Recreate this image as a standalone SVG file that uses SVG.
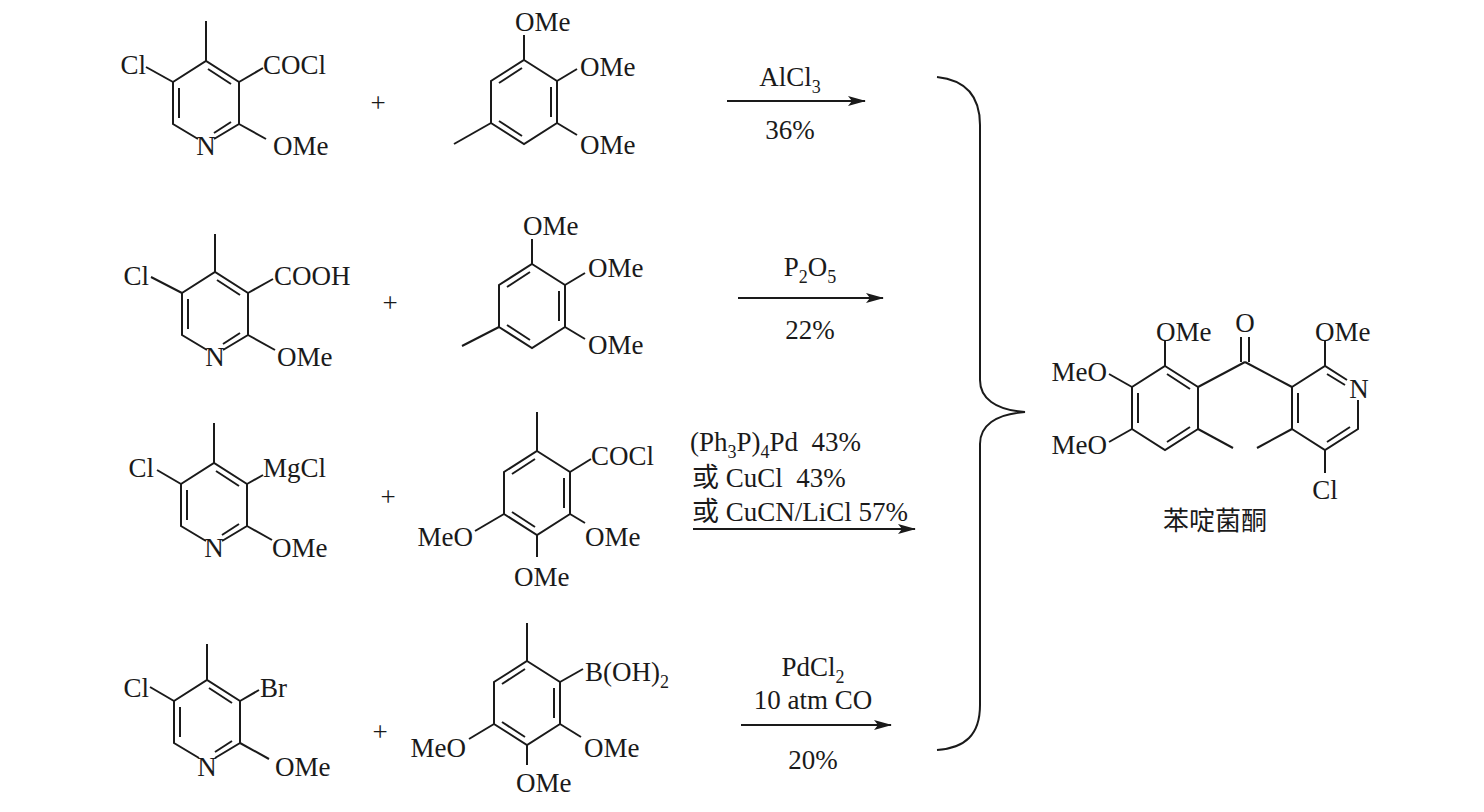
<svg xmlns="http://www.w3.org/2000/svg" width="1484" height="812" viewBox="0 0 1484 812">
<defs>
<style>
line,path,polyline{stroke:#1a1a1a;stroke-width:2;fill:none}
text{font-family:"Liberation Serif","Times New Roman","Noto Sans CJK SC",serif;font-size:27px;fill:#1a1a1a}
.m{text-anchor:middle}.e{text-anchor:end}
.s{font-size:18px}
.cjk{font-family:"Noto Sans CJK SC",sans-serif;font-size:26px}
</style>
<marker id="ah" markerWidth="18" markerHeight="10" refX="17" refY="5" orient="auto" markerUnits="userSpaceOnUse">
<path d="M0,0 L18,5 L0,10 L4,5 Z" style="fill:#1a1a1a;stroke:none"/>
</marker>
</defs>
<rect width="1484" height="812" fill="#ffffff"/>

<!-- Row 1 pyridine -->
<g id="pyr1" transform="translate(206,103)">
<polyline points="8,36 33,21 33,-21 0,-42 -33,-21 -33,21 -8,36"/>
<line x1="2" y1="-34" x2="25" y2="-19"/><line x1="25" y1="19" x2="8" y2="30"/><line x1="-27" y1="-15" x2="-27" y2="15"/>
<line x1="0" y1="-42" x2="0" y2="-82"/><line x1="-33" y1="-21" x2="-60" y2="-36"/><line x1="33" y1="-21" x2="57" y2="-35"/><line x1="33" y1="21" x2="60" y2="36"/>
<text class="m" x="0" y="52">N</text><text class="e" x="-60" y="-29">Cl</text><text x="57" y="-29">COCl</text><text x="67" y="52">OMe</text>
</g>
<text id="plus1" class="m" x="378" y="112">+</text>
<g id="benz1" transform="translate(524,102)">
<polygon points="0,-42 33,-21 33,21 0,42 -33,21 -33,-21" style="stroke:#1a1a1a;stroke-width:2;fill:none"/>
<line x1="-2" y1="-34" x2="-25" y2="-19"/><line x1="27" y1="-15" x2="27" y2="15"/><line x1="-2" y1="34" x2="-25" y2="19"/>
<line x1="0" y1="-42" x2="0" y2="-67"/><line x1="33" y1="-21" x2="53" y2="-33"/><line x1="33" y1="21" x2="53" y2="33"/><line x1="-33" y1="21" x2="-70" y2="42"/>
<text x="-9" y="-71">OMe</text><text x="56" y="-26">OMe</text><text x="56" y="52">OMe</text>
</g>

<!-- Row 2 -->
<g id="pyr2" transform="translate(215,314)">
<polyline points="8,36 33,21 33,-21 0,-42 -33,-21 -33,21 -8,36"/>
<line x1="2" y1="-34" x2="25" y2="-19"/><line x1="25" y1="19" x2="8" y2="30"/><line x1="-27" y1="-15" x2="-27" y2="15"/>
<line x1="0" y1="-42" x2="0" y2="-80"/><line x1="-33" y1="-21" x2="-64" y2="-37"/><line x1="33" y1="-21" x2="58" y2="-35"/><line x1="33" y1="21" x2="60" y2="36"/>
<text class="e" x="-66" y="-29">Cl</text><text class="m" x="0" y="52">N</text><text x="59" y="-29">COOH</text><text x="62" y="52">OMe</text>
</g>
<text id="plus2" class="m" x="390" y="312">+</text>
<g id="benz2" transform="translate(532,306)">
<polygon points="0,-42 33,-21 33,21 0,42 -33,21 -33,-21" style="stroke:#1a1a1a;stroke-width:2;fill:none"/>
<line x1="-2" y1="-34" x2="-25" y2="-19"/><line x1="27" y1="-15" x2="27" y2="15"/><line x1="-2" y1="34" x2="-25" y2="19"/>
<line x1="0" y1="-42" x2="0" y2="-67"/><line x1="33" y1="-21" x2="53" y2="-33"/><line x1="33" y1="21" x2="53" y2="33"/><line x1="-33" y1="21" x2="-70" y2="40"/>
<text x="-9" y="-71">OMe</text><text x="56" y="-29">OMe</text><text x="56" y="48">OMe</text>
</g>

<!-- Row 3 -->
<g id="pyr3" transform="translate(214,505)">
<polyline points="8,36 33,21 33,-21 0,-42 -33,-21 -33,21 -8,36"/>
<line x1="2" y1="-34" x2="25" y2="-19"/><line x1="25" y1="19" x2="8" y2="30"/><line x1="-27" y1="-15" x2="-27" y2="15"/>
<line x1="0" y1="-42" x2="0" y2="-82"/><line x1="-33" y1="-21" x2="-57" y2="-35"/><line x1="33" y1="-21" x2="49" y2="-30"/><line x1="33" y1="21" x2="58" y2="35"/>
<text class="m" x="0" y="52">N</text><text class="e" x="-60" y="-28">Cl</text><text x="49" y="-28">MgCl</text><text x="58" y="52">OMe</text>
</g>
<text id="plus3" class="m" x="388" y="506">+</text>
<g id="benz3" transform="translate(537,493)">
<polygon points="0,-42 33,-21 33,21 0,42 -33,21 -33,-21" style="stroke:#1a1a1a;stroke-width:2;fill:none"/>
<line x1="-2" y1="-34" x2="-25" y2="-19"/><line x1="27" y1="-15" x2="27" y2="15"/><line x1="-2" y1="34" x2="-25" y2="19"/>
<line x1="0" y1="-42" x2="0" y2="-81"/><line x1="33" y1="-21" x2="54" y2="-34"/><line x1="33" y1="21" x2="48" y2="30"/><line x1="-33" y1="21" x2="-62" y2="38"/><line x1="0" y1="42" x2="0" y2="64"/>
<text x="54" y="-28">COCl</text><text class="e" x="-64" y="53">MeO</text><text x="48" y="53">OMe</text><text x="-23" y="93">OMe</text>
</g>

<!-- Row 4 -->
<g id="pyr4" transform="translate(207,722)">
<polyline points="8,36 33,21 33,-21 0,-42 -33,-21 -33,21 -8,36"/>
<line x1="2" y1="-34" x2="25" y2="-19"/><line x1="25" y1="19" x2="8" y2="30"/><line x1="-27" y1="-15" x2="-27" y2="15"/>
<line x1="0" y1="-42" x2="0" y2="-78"/><line x1="-33" y1="-21" x2="-57" y2="-35"/><line x1="33" y1="-21" x2="52" y2="-32"/><line x1="33" y1="21" x2="62" y2="37"/>
<text class="m" x="0" y="54">N</text><text class="e" x="-58" y="-25">Cl</text><text x="53" y="-25">Br</text><text x="68" y="54">OMe</text>
</g>
<text id="plus4" class="m" x="380" y="741">+</text>
<g id="benz4" transform="translate(527,703)">
<polygon points="0,-42 33,-21 33,21 0,42 -33,21 -33,-21" style="stroke:#1a1a1a;stroke-width:2;fill:none"/>
<line x1="-2" y1="-34" x2="-25" y2="-19"/><line x1="27" y1="-15" x2="27" y2="15"/><line x1="-2" y1="34" x2="-25" y2="19"/>
<line x1="0" y1="-42" x2="0" y2="-80"/><line x1="33" y1="-21" x2="56" y2="-34"/><line x1="33" y1="21" x2="54" y2="34"/><line x1="-33" y1="21" x2="-58" y2="36"/><line x1="0" y1="42" x2="0" y2="62"/>
<text x="58" y="-22">B(OH)<tspan class="s" dy="7">2</tspan></text><text class="e" x="-61" y="54">MeO</text><text x="57" y="54">OMe</text><text x="-11" y="89">OMe</text>
</g>

<!-- Product -->
<g id="product">
<g transform="translate(1165,408)">
<polygon points="0,-42 33,-21 33,21 0,42 -33,21 -33,-21" style="stroke:#1a1a1a;stroke-width:2;fill:none"/>
<line x1="-27" y1="-15" x2="-27" y2="15"/><line x1="2" y1="-34" x2="25" y2="-19"/><line x1="25" y1="19" x2="2" y2="34"/>
<line x1="0" y1="-42" x2="0" y2="-67"/><line x1="-33" y1="-21" x2="-56" y2="-34"/><line x1="-33" y1="21" x2="-56" y2="34"/><line x1="33" y1="21" x2="68" y2="40"/>
<text x="-9" y="-67">OMe</text><text class="e" x="-58" y="-27">MeO</text><text class="e" x="-58" y="46">MeO</text>
</g>
<line x1="1198" y1="387" x2="1245" y2="362"/><line x1="1245" y1="362" x2="1292" y2="387"/>
<line x1="1241" y1="362" x2="1241" y2="337"/><line x1="1249" y1="362" x2="1249" y2="337"/>
<text class="m" x="1245" y="332">O</text>
<g transform="translate(1325,408)">
<polyline points="22,-28 0,-42 -33,-21 -33,21 0,42 33,21 33,-8"/>
<line x1="2" y1="-34" x2="20" y2="-23"/><line x1="-27" y1="-15" x2="-27" y2="15"/><line x1="25" y1="19" x2="2" y2="34"/>
<line x1="0" y1="-42" x2="0" y2="-67"/><line x1="-33" y1="21" x2="-68" y2="40"/><line x1="0" y1="42" x2="0" y2="65"/>
<text class="m" x="34" y="-10">N</text><text x="-10" y="-67">OMe</text><text class="m" x="0" y="91">Cl</text>
</g>
<text class="cjk m" x="1215" y="530">苯啶菌酮</text>
</g>

<!-- Connectors -->
<g id="connectors">
<line x1="727" y1="101" x2="865" y2="101" marker-end="url(#ah)"/>
<line x1="738" y1="298" x2="883" y2="298" marker-end="url(#ah)"/>
<line x1="693" y1="529" x2="915" y2="529" marker-end="url(#ah)"/>
<line x1="741" y1="725" x2="891" y2="725" marker-end="url(#ah)"/>
<path d="M937,77 C965,80 980,95 980,125 L980,380 C980,398 995,410 1025,412 C995,414 980,426 980,444 L980,705 C980,735 965,748 937,750"/>
</g>

<!-- Reagent labels -->
<text class="m" x="790" y="86">AlCl<tspan class="s" dy="7">3</tspan></text>
<text class="m" x="790" y="139">36%</text>
<text class="m" x="810" y="276">P<tspan class="s" dy="7">2</tspan><tspan dy="-7">O</tspan><tspan class="s" dy="7">5</tspan></text>
<text class="m" x="810" y="339">22%</text>
<text x="690" y="451" xml:space="preserve">(Ph<tspan class="s" dy="7">3</tspan><tspan dy="-7">P)</tspan><tspan class="s" dy="7">4</tspan><tspan dy="-7">Pd  43%</tspan></text>
<text x="692" y="487" xml:space="preserve">或 CuCl  43%</text>
<text x="692" y="521">或 CuCN/LiCl 57%</text>
<text class="m" x="813" y="676">PdCl<tspan class="s" dy="7">2</tspan></text>
<text class="m" x="813" y="709">10 atm CO</text>
<text class="m" x="813" y="769">20%</text>
</svg>
